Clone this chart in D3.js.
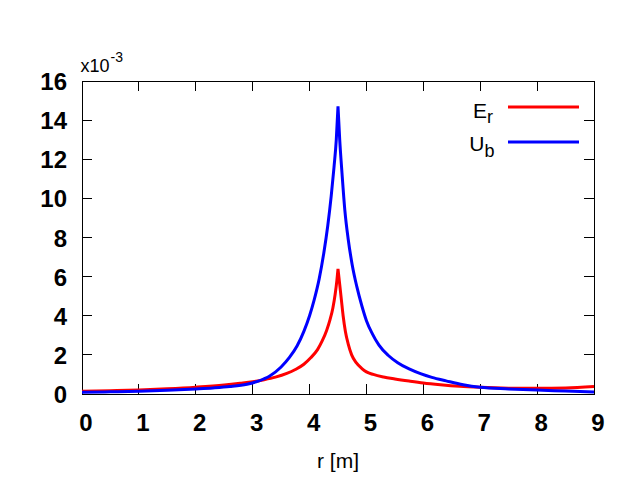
<!DOCTYPE html>
<html>
<head>
<meta charset="utf-8">
<script src="https://cdn.jsdelivr.net/npm/d3@7/dist/d3.min.js"></script>
<style>
  html, body { margin: 0; padding: 0; background: #fff; }
  svg { display: block; }
  text { font-family: "Liberation Sans", Arial, Helvetica, sans-serif; fill: #000; }
</style>
</head>
<body>
<svg id="chart" width="640" height="480"></svg>
<script>
// ---- data (values in units of 1e-3) ----
const xTicks = [0, 1, 2, 3, 4, 5, 6, 7, 8, 9];
const yTicks = [0, 2, 4, 6, 8, 10, 12, 14, 16];

const erR = [0, 0.5, 1.0, 1.5, 2.0, 2.5, 2.78, 3.0, 3.2, 3.4, 3.6, 3.75, 3.9, 4.02, 4.14, 4.22, 4.3, 4.36, 4.41, 4.45, 4.48, 4.5,
             4.53, 4.56, 4.59, 4.63, 4.68, 4.74, 4.82, 4.92, 5.0, 5.12, 5.3, 5.5, 5.75, 6.0, 6.3, 6.64, 7.0, 7.5, 8.0, 8.5, 9.0];
const erV = [0.14, 0.17, 0.21, 0.27, 0.35, 0.46, 0.55, 0.63, 0.73, 0.86, 1.05, 1.25, 1.52, 1.85, 2.27, 2.7, 3.25, 3.8, 4.4, 5.1, 5.8, 6.4,
             5.6, 4.8, 4.0, 3.2, 2.55, 2.0, 1.6, 1.3, 1.13, 1.0, 0.87, 0.77, 0.66, 0.56, 0.47, 0.39, 0.34, 0.30, 0.29, 0.31, 0.38];

const ubR = [0, 0.5, 1.0, 1.5, 2.0, 2.3, 2.6, 2.9, 3.1, 3.3, 3.5, 3.65, 3.78, 3.9, 4.0, 4.08, 4.17, 4.25, 4.32, 4.38, 4.43, 4.47, 4.5,
             4.53, 4.57, 4.62, 4.68, 4.75, 4.83, 4.92, 5.0, 5.1, 5.22, 5.38, 5.55, 5.75, 5.95, 6.15, 6.4, 6.7, 7.0, 7.5, 8.0, 8.5, 9.0];
const ubV = [0.09, 0.11, 0.14, 0.19, 0.26, 0.31, 0.38, 0.50, 0.66, 0.92, 1.38, 1.88, 2.45, 3.2, 4.0, 4.8, 5.9, 7.2, 8.6, 10.1, 11.6, 13.0, 14.7,
             13.0, 11.3, 9.4, 7.9, 6.6, 5.5, 4.5, 3.75, 3.1, 2.5, 1.98, 1.6, 1.28, 1.04, 0.85, 0.67, 0.47, 0.34, 0.26, 0.20, 0.15, 0.10];

const seriesNames = ["E", "U"];
const seriesSubs = ["r", "b"];
const seriesColors = ["#ff0000", "#0000ff"];

// ---- layout ----
const svg = d3.select("#chart");
const L = 82, R = 594, T = 81, B = 394;
const x = d3.scaleLinear().domain([0, 9]).range([L, R]);
const y = d3.scaleLinear().domain([0, 16]).range([B, T]);
const tickLen = 10;

const axisG = svg.append("g");

// frame
axisG.append("rect").attr("x", L).attr("y", T).attr("width", R - L).attr("height", B - T)
  .attr("fill", "none").attr("stroke", "#000").attr("stroke-width", 1).attr("shape-rendering", "crispEdges");

// x ticks (bottom and top, inward)
xTicks.forEach(t => {
  if (t > 0 && t < 9) {
    axisG.append("line").attr("x1", x(t)).attr("x2", x(t)).attr("y1", B).attr("y2", B - tickLen)
      .attr("stroke", "#000").attr("shape-rendering", "crispEdges");
    axisG.append("line").attr("x1", x(t)).attr("x2", x(t)).attr("y1", T).attr("y2", T + tickLen)
      .attr("stroke", "#000").attr("shape-rendering", "crispEdges");
  }
  axisG.append("text").attr("x", x(t) + 4).attr("y", 431)
    .attr("text-anchor", "middle").attr("font-size", 24).attr("font-weight", "bold").text(t);
});

// y ticks (left and right, inward)
yTicks.forEach(t => {
  if (t > 0 && t < 16) {
    axisG.append("line").attr("x1", L).attr("x2", L + tickLen).attr("y1", y(t)).attr("y2", y(t))
      .attr("stroke", "#000").attr("shape-rendering", "crispEdges");
    axisG.append("line").attr("x1", R).attr("x2", R - tickLen).attr("y1", y(t)).attr("y2", y(t))
      .attr("stroke", "#000").attr("shape-rendering", "crispEdges");
  }
  axisG.append("text").attr("x", 67).attr("y", y(t) + 9)
    .attr("text-anchor", "end").attr("font-size", 24).attr("font-weight", "bold").text(t);
});

// exponent label
svg.append("text").attr("x", 80.5).attr("y", 71.5).attr("font-size", 18).text("x10");
svg.append("text").attr("x", 110.5).attr("y", 61.5).attr("font-size", 14).text("-3");

// x axis title
svg.append("text").attr("x", 338).attr("y", 468).attr("text-anchor", "middle").attr("font-size", 21).text("r [m]");

// ---- curves ----
const line = d3.line().x(d => x(d[0])).y(d => y(d[1])).curve(d3.curveMonotoneX);
function cuspPath(rs, vs) {
  const pts = rs.map((r, i) => [r, vs[i]]);
  let p = 0;
  vs.forEach((v, i) => { if (v > vs[p]) p = i; });
  const left = line(pts.slice(0, p + 1));
  const right = line(pts.slice(p)).replace(/^M/, "L");
  return left + right;
}

const plot = svg.append("g");
[[erR, erV], [ubR, ubV]].forEach((s, i) => {
  plot.append("path").attr("d", cuspPath(s[0], s[1]))
    .attr("fill", "none").attr("stroke", seriesColors[i]).attr("stroke-width", 3)
    .attr("stroke-linejoin", "miter").attr("stroke-miterlimit", 2);
});

// ---- legend ----
const legY = [107, 142];
const legBase = [117.5, 151];
const legSubBase = [123, 156.5];
const legEnd = [487, 484.5];
seriesNames.forEach((n, i) => {
  svg.append("text").attr("x", legEnd[i]).attr("y", legBase[i]).attr("text-anchor", "end")
    .attr("font-size", 21).text(n);
  svg.append("text").attr("x", legEnd[i]).attr("y", legSubBase[i]).attr("font-size", 18).text(seriesSubs[i]);
  svg.append("line").attr("x1", 508).attr("x2", 579).attr("y1", legY[i]).attr("y2", legY[i])
    .attr("stroke", seriesColors[i]).attr("stroke-width", 3);
});
</script>
</body>
</html>
